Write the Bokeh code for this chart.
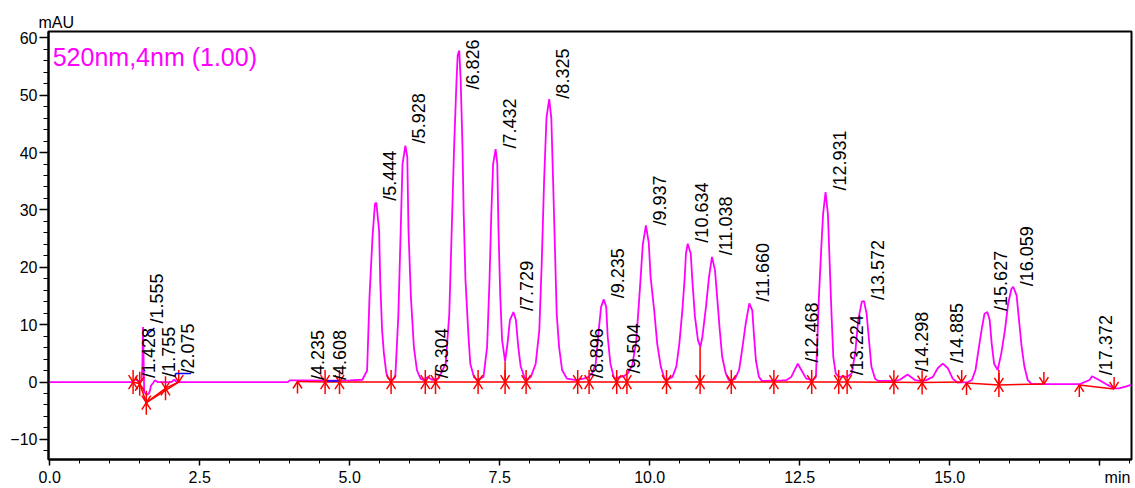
import numpy as np
from bokeh.plotting import figure
from bokeh.models import Range1d, FixedTicker, Label, ColumnDataSource
from bokeh.core.properties import value
from bokeh.embed import file_html
from bokeh.resources import INLINE

# ---- chromatogram trace, 520 nm (time in min, absorbance in mAU) ----
trace_t = [
    0.00, 1.37, 1.40, 1.43, 1.47, 1.53, 1.545, 1.555, 1.565, 1.575, 1.62, 1.66, 1.69, 1.72,
    1.755, 1.80, 2.03, 2.075, 2.12, 3.97, 4.00, 4.235, 4.608, 5.00,
    5.21, 5.29, 5.33, 5.38, 5.42, 5.444, 5.49, 5.51, 5.54, 5.57, 5.61, 5.64, 5.68,
    5.72, 5.76, 5.81, 5.85, 5.88, 5.928, 5.96, 5.98, 6.02, 6.07, 6.12, 6.18, 6.23,
    6.304, 6.37, 6.48,
    6.60, 6.66, 6.70, 6.74, 6.78, 6.80, 6.826, 6.85, 6.88, 6.90, 6.93, 6.98, 7.01, 7.07, 7.12,
    7.23, 7.29, 7.33, 7.36, 7.39, 7.432, 7.46, 7.48, 7.51, 7.54, 7.59,
    7.63, 7.67, 7.729, 7.77, 7.81, 7.85, 7.91, 7.96,
    8.02, 8.10, 8.16, 8.20, 8.24, 8.28, 8.325, 8.36, 8.39, 8.42, 8.45, 8.49, 8.54, 8.62, 8.77,
    8.896, 8.98, 9.04,
    9.10, 9.15, 9.19, 9.235, 9.275, 9.30, 9.345, 9.40, 9.43, 9.504, 9.57, 9.64,
    9.71, 9.775, 9.835, 9.885, 9.937, 9.985, 10.015, 10.075, 10.125, 10.185, 10.245, 10.29,
    10.38, 10.444, 10.494, 10.544, 10.584, 10.604, 10.634, 10.684, 10.714, 10.754, 10.804, 10.844,
    10.878, 10.938, 10.988, 11.038, 11.088, 11.128, 11.168, 11.208, 11.268, 11.318,
    11.42, 11.49, 11.54, 11.60, 11.66, 11.71, 11.74, 11.77, 11.82, 11.87,
    12.20, 12.28, 12.36, 12.468, 12.56, 12.61, 12.72,
    12.77, 12.79, 12.82, 12.86, 12.89, 12.931, 12.97, 13.00, 13.03, 13.06, 13.10, 13.15,
    13.224, 13.29, 13.365, 13.425, 13.475, 13.535, 13.572, 13.615, 13.655, 13.695, 13.755, 13.805,
    14.10, 14.17, 14.298, 14.42, 14.50, 14.60,
    14.72, 14.80, 14.885, 14.97, 15.05, 15.13, 15.30,
    15.37, 15.43, 15.48, 15.54, 15.58, 15.627, 15.667, 15.70, 15.74, 15.80,
    15.86, 15.92, 15.975, 16.03, 16.059, 16.115, 16.155, 16.20, 16.245, 16.30, 16.37,
    17.17, 17.33, 17.372, 17.49, 17.63, 17.74, 17.82, 17.93, 18.02,
]
trace_mau = [
    0.0, 0.0, 0.3, 0.5, 0.2, 0.2, 3.0, 9.6, 4.0, -1.8, -2.2, -1.9, -0.6, -0.2,
    0.3, 0.0, 0.0, 0.4, 0.0, 0.0, 0.3, 0.3, 0.25, 0.3,
    0.4, 2.0, 14.8, 25.3, 31.0, 31.3, 26.4, 17.2, 9.0, 5.0, 1.6, 0.7, 0.35,
    0.4, 0.9, 11.4, 26.4, 38.0, 41.2, 39.2, 26.4, 14.8, 6.1, 2.1, 0.6, 0.35,
    0.9, 0.4, 0.6,
    3.2, 11.9, 26.4, 40.9, 52.5, 57.0, 57.8, 52.5, 40.9, 29.3, 17.7, 7.9, 3.2, 0.9, 0.35,
    0.9, 6.1, 17.7, 29.3, 38.0, 40.6, 38.0, 26.4, 14.8, 7.3, 3.6,
    6.7, 10.8, 12.2, 10.8, 6.1, 2.7, 0.9, 0.4,
    0.9, 3.2, 9.0, 20.6, 35.1, 46.1, 49.3, 46.1, 35.1, 23.5, 11.9, 6.1, 2.1, 0.6, 0.35,
    0.6, 0.9, 1.5,
    3.2, 9.0, 13.1, 14.4, 13.1, 7.9, 3.2, 0.9, 0.6, 0.9, 1.0, 1.6,
    3.0, 7.0, 16.0, 24.0, 27.3, 24.2, 18.3, 12.5, 6.7, 2.7, 0.6, 0.4,
    0.9, 2.7, 6.7, 12.5, 18.3, 22.4, 24.1, 22.4, 17.2, 11.4, 7.3, 6.1,
    7.9, 13.1, 18.3, 21.8, 19.5, 14.3, 9.0, 4.4, 1.5, 0.35,
    0.5, 2.1, 5.6, 10.2, 13.7, 12.5, 7.9, 3.8, 0.9, 0.2,
    0.3, 0.35, 0.9, 3.2, 1.5, 0.6, 0.35,
    0.9, 6.1, 14.8, 23.5, 29.3, 33.1, 29.3, 20.6, 11.9, 4.4, 1.5, 0.9,
    1.0, 0.9, 1.5, 5.0, 10.8, 14.0, 14.1, 11.9, 7.3, 2.7, 0.6, 0.2,
    0.2, 0.4, 1.3, 0.35, 0.2, 0.3,
    0.9, 2.4, 3.2, 2.4, 0.6, -0.1, 0.0,
    0.35, 2.1, 5.6, 9.6, 11.9, 12.2, 10.8, 6.7, 3.2, 2.1,
    5.0, 9.0, 13.7, 16.3, 16.6, 15.1, 10.8, 6.1, 2.7, 0.35, -0.35,
    -0.35, 0.35, 1.0, 0.35, -0.5, -1.1, -1.1, -0.8, -0.5,
]

# ---- detected peaks: retention time and the level where its label starts ----
peak_rt = [1.428, 1.555, 1.755, 2.075, 4.235, 4.608, 5.444, 5.928, 6.304, 6.826,
           7.432, 7.729, 8.325, 8.896, 9.235, 9.504, 9.937, 10.634, 11.038, 11.660,
           12.468, 12.931, 13.224, 13.572, 14.298, 14.885, 15.627, 16.059, 17.372]
label_base = [0.7, 10.2, 0.9, 1.5, 0.35, 0.35, 31.6, 41.6, 0.65, 51.0,
              40.7, 12.4, 49.4, 0.65, 14.6, 1.5, 27.3, 24.3, 22.1, 14.0,
              3.4, 33.4, 1.2, 14.3, 1.8, 3.3, 12.4, 16.7, 1.2]
peak_text = ["/%.3f" % t for t in peak_rt]

# ---- integration events (time, baseline level, kind) ----
event_t = [1.39, 1.50, 1.61, 1.93, 2.15,
           4.13, 4.59, 4.83, 5.69, 6.26, 6.43, 7.14, 7.59, 7.94, 8.80, 8.99, 9.45, 9.62,
           10.28, 10.84, 11.36, 12.07, 12.70, 13.15, 13.29, 14.07, 14.54, 15.20,
           15.28, 15.82, 16.57,
           17.16, 17.74]
event_y = [0.0, -0.3, -3.6, -1.1, 0.0,
           0.1, 0.0, 0.0, 0.0, 0.0, 0.0, 0.0, 0.0, 0.0, 0.0, 0.0, 0.0, 0.0,
           0.0, 0.0, 0.0, 0.0, 0.0, 0.0, 0.0, -0.05, -0.1, 0.0,
           -0.15, -0.5, -0.35,
           -0.5, -1.2]
event_kind = ["both", "both", "both", "both", "end",
              "start", "both", "both", "both", "both", "both", "both", "both", "both",
              "both", "both", "both", "both",
              "both", "both", "both", "both", "both", "both", "both", "both", "both", "end",
              "start", "both", "end",
              "start", "end"]
event_run = [0] * 5 + [1] * 23 + [2] * 3 + [3] * 2

# skimmed baseline below the early peaks
skim_from, skim_to = 1.61, 2.15

# perpendicular drops at unresolved valleys
drop_t = [7.59, 10.84, 15.82]
drop_top = [3.6, 6.1, 2.1]

# peak-top flags
flag_t0 = [1.61, 2.095, 2.095, 4.62]
flag_t1 = [1.745, 2.357, 2.095, 4.815]
flag_y0 = [8.2, 1.48, 1.48, 0.17]
flag_y1 = [9.4, 1.48, 0.92, 0.17]

# ---- figure ----
W, H = 1135, 488
BL, BR, BT, BB = 48, 4, 31, 29
X0, X1 = -0.02, 18.03
Y0, Y1 = -13.5, 61.1
ppx = (W - BL - BR) / (X1 - X0)
ppy = (H - BT - BB) / (Y1 - Y0)

MAGENTA = "#FF00FF"
RED = "#FF0000"
BLUE = "#0000FF"
FONT = "Liberation Sans"
NBSP = "\u00a0"

p = figure(width=W, height=H, output_backend="svg", toolbar_location=None,
           title="mAU",
           x_range=Range1d(X0, X1), y_range=Range1d(Y0, Y1),
           min_border_left=BL, min_border_right=BR, min_border_top=BT, min_border_bottom=BB)
p.xgrid.visible = False
p.ygrid.visible = False
p.outline_line_color = "black"
p.outline_line_width = 2
p.background_fill_color = "white"
p.border_fill_color = "white"

# y unit sits above the axis, flush with its labels
p.title.align = "left"
p.title.offset = -10
p.title.standoff = 2
p.title.text_font = FONT
p.title.text_font_size = "16px"
p.title.text_font_style = "normal"
p.title.text_color = "black"

xa = p.xaxis[0]
xa.ticker = FixedTicker(ticks=[0, 2.5, 5, 7.5, 10, 12.5, 15, 17.5],
                        minor_ticks=list(np.arange(0, 18.01, 0.5)))
# the last major tick carries the time unit, pushed to the right of the tick
xa.major_label_overrides = {0: "0.0", 2.5: "2.5", 5: "5.0", 7.5: "7.5", 10: "10.0",
                            12.5: "12.5", 15: "15.0", 17.5: NBSP * 8 + "min"}
ya = p.yaxis[0]
ya.ticker = FixedTicker(ticks=[-10, 0, 10, 20, 30, 40, 50, 60],
                        minor_ticks=list(range(-12, 61, 2)))
for ax in (xa, ya):
    ax.major_label_text_font = FONT
    ax.major_label_text_font_size = "16px"
    ax.major_label_text_color = "black"
    ax.axis_line_color = "black"
    ax.axis_line_width = 2
    ax.major_tick_line_color = "black"
    ax.minor_tick_line_color = "black"
    ax.major_tick_line_width = 1.5
    ax.minor_tick_line_width = 1
    ax.major_tick_in = 0
    ax.minor_tick_in = 0
xa.major_tick_out = 6
xa.minor_tick_out = 4
xa.major_label_standoff = 3
ya.major_tick_out = 9
ya.minor_tick_out = 5
ya.major_label_standoff = 2

# trace
p.line(trace_t, trace_mau, line_color=MAGENTA, line_width=1.8)

# baselines
bx, by = [], []
for run in sorted(set(event_run)):
    idx = [i for i, r in enumerate(event_run) if r == run]
    bx.append([event_t[i] for i in idx])
    by.append([event_y[i] for i in idx])
i0, i1 = event_t.index(skim_from), event_t.index(skim_to)
bx.append([event_t[i0], event_t[i1]])
by.append([event_y[i0], event_y[i1]])
for t, top in zip(drop_t, drop_top):
    j = event_t.index(t)
    bx.append([t, t])
    by.append([event_y[j], top])
p.multi_line(bx, by, line_color=RED, line_width=1.5)

# event arrows: start = stem below, end = stem above
STEM, ARM_X, ARM_Y = 12, 4.5, 7
ax_, ay_ = [], []
for t, y, k in zip(event_t, event_y, event_kind):
    dirs = []
    if k in ("start", "both"):
        dirs.append(-1)
    if k in ("end", "both"):
        dirs.append(1)
    for d in dirs:
        ax_.append([t, t])
        ay_.append([y, y + d * STEM / ppy])
        ax_.append([t - ARM_X / ppx, t, t + ARM_X / ppx])
        ay_.append([y + d * ARM_Y / ppy, y, y + d * ARM_Y / ppy])
p.multi_line(ax_, ay_, line_color=RED, line_width=1.5)

# peak-top flags
p.segment(flag_t0, flag_y0, flag_t1, flag_y1, line_color=BLUE, line_width=1.5)

# retention-time labels
src = ColumnDataSource(dict(x=peak_rt, y=label_base, text=peak_text))
p.text(x="x", y="y", text="text", source=src, angle=np.pi / 2, x_offset=14,
       text_align="left", text_baseline="middle", text_color="black",
       text_font=value(FONT), text_font_size="18px")

# channel caption
p.add_layout(Label(x=0.05, y=56.6, text="520nm,4nm (1.00)", text_color=MAGENTA,
                   text_font=FONT, text_font_size="25px", text_baseline="alphabetic"))

open("out.html", "w").write(file_html(p, INLINE))
